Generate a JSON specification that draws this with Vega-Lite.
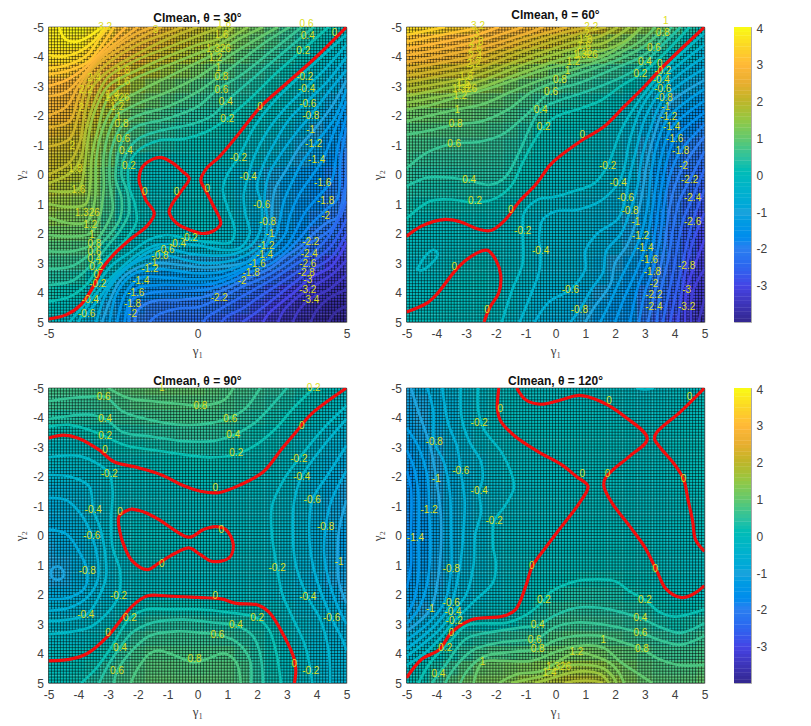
{"$schema":"https://vega.github.io/schema/vega-lite/v6.json","padding":{"left":12.5,"top":8,"right":0,"bottom":0},"background":"white","bounds":"flush","align":"each","columns":4,"spacing":{"row":66,"column":29.5},
"config":{"view":{"stroke":"#b0b0b0"},"axis":{"labelFont":"Liberation Sans","labelFontSize":12,"labelColor":"#404040","tickSize":0,"labelPadding":5,"labelFlush":false,"labelOverlap":false,"domainColor":"#a8a8a8","grid":false,"titleFont":"Liberation Serif","titleFontSize":13,"titleColor":"#404040","titleFontWeight":"normal"},"title":{"font":"Liberation Sans","fontSize":12,"fontWeight":"bold","color":"#111111","offset":-6}},
"datasets":{
"xs":[{"k":1,"x":[-5,-4.5,-4,-3.5,-3,-2.5,-2,-1.5,-1,-0.5,0,0.5,1,1.5,2,2.5,3,3.5,4,4.5,5]}],
"mesh":[{"v":-5},{"v":-4.9},{"v":-4.8},{"v":-4.7},{"v":-4.6},{"v":-4.5},{"v":-4.4},{"v":-4.3},{"v":-4.2},{"v":-4.1},{"v":-4},{"v":-3.9},{"v":-3.8},{"v":-3.7},{"v":-3.6},{"v":-3.5},{"v":-3.4},{"v":-3.3},{"v":-3.2},{"v":-3.1},{"v":-3},{"v":-2.9},{"v":-2.8},{"v":-2.7},{"v":-2.6},{"v":-2.5},{"v":-2.4},{"v":-2.3},{"v":-2.2},{"v":-2.1},{"v":-2},{"v":-1.9},{"v":-1.8},{"v":-1.7},{"v":-1.6},{"v":-1.5},{"v":-1.4},{"v":-1.3},{"v":-1.2},{"v":-1.1},{"v":-1},{"v":-0.9},{"v":-0.8},{"v":-0.7},{"v":-0.6},{"v":-0.5},{"v":-0.4},{"v":-0.3},{"v":-0.2},{"v":-0.1},{"v":0},{"v":0.1},{"v":0.2},{"v":0.3},{"v":0.4},{"v":0.5},{"v":0.6},{"v":0.7},{"v":0.8},{"v":0.9},{"v":1},{"v":1.1},{"v":1.2},{"v":1.3},{"v":1.4},{"v":1.5},{"v":1.6},{"v":1.7},{"v":1.8},{"v":1.9},{"v":2},{"v":2.1},{"v":2.2},{"v":2.3},{"v":2.4},{"v":2.5},{"v":2.6},{"v":2.7},{"v":2.8},{"v":2.9},{"v":3},{"v":3.1},{"v":3.2},{"v":3.3},{"v":3.4},{"v":3.5},{"v":3.6},{"v":3.7},{"v":3.8},{"v":3.9},{"v":4},{"v":4.1},{"v":4.2},{"v":4.3},{"v":4.4},{"v":4.5},{"v":4.6},{"v":4.7},{"v":4.8},{"v":4.9},{"v":5}],
"bar":[{"v":-3.95},{"v":-3.85},{"v":-3.75},{"v":-3.65},{"v":-3.55},{"v":-3.45},{"v":-3.35},{"v":-3.25},{"v":-3.15},{"v":-3.05},{"v":-2.95},{"v":-2.85},{"v":-2.75},{"v":-2.65},{"v":-2.55},{"v":-2.45},{"v":-2.35},{"v":-2.25},{"v":-2.15},{"v":-2.05},{"v":-1.95},{"v":-1.85},{"v":-1.75},{"v":-1.65},{"v":-1.55},{"v":-1.45},{"v":-1.35},{"v":-1.25},{"v":-1.15},{"v":-1.05},{"v":-0.95},{"v":-0.85},{"v":-0.75},{"v":-0.65},{"v":-0.55},{"v":-0.45},{"v":-0.35},{"v":-0.25},{"v":-0.15},{"v":-0.05},{"v":0.05},{"v":0.15},{"v":0.25},{"v":0.35},{"v":0.45},{"v":0.55},{"v":0.65},{"v":0.75},{"v":0.85},{"v":0.95},{"v":1.05},{"v":1.15},{"v":1.25},{"v":1.35},{"v":1.45},{"v":1.55},{"v":1.65},{"v":1.75},{"v":1.85},{"v":1.95},{"v":2.05},{"v":2.15},{"v":2.25},{"v":2.35},{"v":2.45},{"v":2.55},{"v":2.65},{"v":2.75},{"v":2.85},{"v":2.95},{"v":3.05},{"v":3.15},{"v":3.25},{"v":3.35},{"v":3.45},{"v":3.55},{"v":3.65},{"v":3.75},{"v":3.85},{"v":3.95},{"v":4.02}],
"ha":[
{"k":1,"y":-5,"z":[3.8,3.95,4.0,3.8,3.5,3.2,2.9,2.6,2.4,2.2,2,1.8,1.6,1.35,1.1,0.85,0.6,0.45,0.3,0.15,0]},
{"k":1,"y":-4.5,"z":[3.8,3.85,3.8,3.6,3.35,3.05,2.75,2.5,2.25,2.05,1.85,1.65,1.4,1.15,0.95,0.75,0.55,0.35,0.18,0,-0.2]},
{"k":1,"y":-4,"z":[3.6,3.6,3.5,3.35,3.1,2.8,2.5,2.25,2,1.8,1.6,1.35,1.1,0.9,0.7,0.55,0.35,0.18,0,-0.2,-0.45]},
{"k":1,"y":-3.5,"z":[3.3,3.3,3.2,3.05,2.8,2.45,2.1,1.8,1.55,1.35,1.15,0.95,0.8,0.65,0.5,0.35,0.18,0,-0.2,-0.45,-0.8]},
{"k":1,"y":-3,"z":[3,2.95,2.85,2.7,2.45,2,1.6,1.3,1.1,0.95,0.8,0.68,0.56,0.45,0.33,0.2,0.05,-0.12,-0.35,-0.65,-1.1]},
{"k":1,"y":-2.5,"z":[2.8,2.7,2.6,2.4,2.05,1.55,1.2,1,0.85,0.7,0.6,0.5,0.42,0.33,0.22,0.1,-0.05,-0.25,-0.55,-0.9,-1.35]},
{"k":1,"y":-2,"z":[2.6,2.5,2.35,2.1,1.7,1.2,0.95,0.8,0.65,0.5,0.42,0.35,0.28,0.2,0.1,0,-0.18,-0.45,-0.8,-1.15,-1.55]},
{"k":1,"y":-1.5,"z":[2.4,2.3,2.15,1.9,1.45,1,0.78,0.6,0.45,0.35,0.28,0.22,0.15,0.07,0,-0.15,-0.4,-0.7,-1,-1.35,-1.7]},
{"k":1,"y":-1,"z":[2.2,2.1,2,1.7,1.3,0.85,0.6,0.42,0.3,0.2,0.15,0.1,0.03,-0.03,-0.15,-0.3,-0.6,-0.9,-1.2,-1.5,-1.85]},
{"k":1,"y":-0.5,"z":[2.1,2,1.85,1.6,1.1,0.5,0.2,0.05,0,0.03,0.03,0,-0.02,-0.1,-0.25,-0.45,-0.75,-1.05,-1.35,-1.65,-2]},
{"k":1,"y":0,"z":[2,1.9,1.75,1.4,0.85,0.35,0.03,-0.03,-0.05,-0.02,0.01,-0.1,-0.25,-0.45,-0.7,-0.95,-1.2,-1.45,-1.65,-1.85,-2.15]},
{"k":1,"y":0.5,"z":[1.85,1.7,1.55,1.3,0.8,0.28,0.08,-0.02,-0.04,0.02,0.02,-0.06,-0.2,-0.45,-0.7,-1,-1.25,-1.5,-1.7,-1.9,-2.25]},
{"k":1,"y":1,"z":[1.6,1.5,1.35,1.1,0.7,0.3,0.1,0,-0.01,0.02,0.03,0.01,-0.15,-0.4,-0.65,-1,-1.3,-1.55,-1.75,-1.95,-2.35]},
{"k":1,"y":1.5,"z":[1.4,1.3,1.2,1.1,0.6,0.2,0.06,0,-0.03,0.01,0.03,0.02,-0.1,-0.35,-0.65,-1,-1.3,-1.6,-1.85,-2.1,-2.5]},
{"k":1,"y":2,"z":[1.1,1.1,1.05,0.95,0.55,0.15,-0.04,-0.08,-0.1,-0.06,-0.01,-0.02,-0.2,-0.45,-0.8,-1.1,-1.4,-1.7,-2,-2.2,-2.6]},
{"k":1,"y":2.5,"z":[0.85,0.85,0.8,0.65,0.2,-0.02,-0.15,-0.3,-0.55,-0.5,-0.4,-0.35,-0.35,-0.6,-1,-1.35,-1.6,-1.9,-2.25,-2.5,-2.9]},
{"k":1,"y":3,"z":[0.65,0.65,0.6,0.4,0.1,-0.15,-0.4,-0.75,-1,-1,-1,-1,-1.05,-1.3,-1.6,-1.9,-2.2,-2.45,-2.7,-3,-3.2]},
{"k":1,"y":3.5,"z":[0.4,0.4,0.32,0.03,-0.3,-0.8,-1.3,-1.45,-1.45,-1.4,-1.4,-1.45,-1.6,-1.9,-2.15,-2.4,-2.65,-2.85,-3.05,-3.25,-3.4]},
{"k":1,"y":4,"z":[0.25,0.2,0.15,-0.25,-0.75,-1.2,-1.6,-1.75,-1.8,-1.8,-1.8,-1.9,-2.1,-2.25,-2.5,-2.75,-3,-3.2,-3.35,-3.5,-3.7]},
{"k":1,"y":4.5,"z":[0.1,0.03,-0.15,-0.55,-1.05,-1.5,-1.85,-2.05,-2.15,-2.15,-2.15,-2.25,-2.4,-2.55,-2.8,-3.05,-3.3,-3.5,-3.6,-3.75,-3.85]},
{"k":1,"y":5,"z":[-0.05,-0.2,-0.4,-0.8,-1.3,-1.7,-2,-2.2,-2.3,-2.3,-2.35,-2.5,-2.65,-2.85,-3.1,-3.35,-3.55,-3.7,-3.8,-3.9,-3.99]}],
"hb":[
{"k":1,"y":-5,"z":[3.6,3.55,3.5,3.4,3.3,3.15,3,2.9,2.77,2.6,2.5,2.35,2.25,2.1,1.85,1.6,1.35,1.1,0.75,0.35,0]},
{"k":1,"y":-4.5,"z":[3.2,3.15,3.1,3,2.9,2.75,2.6,2.45,2.3,2.2,2.05,1.9,1.75,1.55,1.35,1.15,0.95,0.65,0.35,0.03,-0.3]},
{"k":1,"y":-4,"z":[2.77,2.7,2.65,2.55,2.45,2.35,2.2,2.05,1.9,1.75,1.6,1.4,1.25,1.1,0.95,0.75,0.55,0.3,-0.05,-0.3,-0.6]},
{"k":1,"y":-3.5,"z":[2.35,2.25,2.2,2.1,2,1.9,1.75,1.6,1.4,1.2,0.95,0.85,0.75,0.65,0.55,0.4,0.2,-0.15,-0.4,-0.65,-0.85]},
{"k":1,"y":-3,"z":[1.9,1.85,1.75,1.65,1.55,1.45,1.3,1.1,0.95,0.85,0.75,0.6,0.5,0.4,0.3,0.12,-0.05,-0.4,-0.65,-0.9,-1.15]},
{"k":1,"y":-2.5,"z":[1.45,1.4,1.35,1.25,1.15,1.05,0.95,0.85,0.7,0.55,0.4,0.33,0.27,0.2,0.05,-0.1,-0.35,-0.75,-1,-1.2,-1.4]},
{"k":1,"y":-2,"z":[1.1,1.05,1,0.95,0.95,0.9,0.8,0.7,0.55,0.4,0.22,0.2,0.15,0.08,-0.05,-0.25,-0.6,-1.1,-1.35,-1.5,-1.7]},
{"k":1,"y":-1.5,"z":[0.85,0.85,0.82,0.8,0.78,0.75,0.65,0.55,0.38,0.2,0.1,0.08,0.04,0,-0.18,-0.4,-0.85,-1.35,-1.6,-1.75,-1.9]},
{"k":1,"y":-1,"z":[0.75,0.7,0.65,0.6,0.6,0.6,0.52,0.42,0.28,0.12,0.05,0.02,-0.02,-0.12,-0.25,-0.5,-1,-1.5,-1.75,-1.95,-2.1]},
{"k":1,"y":-0.5,"z":[0.65,0.55,0.5,0.48,0.48,0.5,0.45,0.35,0.2,0.08,0,-0.03,-0.08,-0.2,-0.3,-0.5,-0.95,-1.35,-1.85,-2.1,-2.3]},
{"k":1,"y":0,"z":[0.5,0.42,0.4,0.38,0.38,0.42,0.38,0.28,0.14,0.03,-0.05,-0.08,-0.13,-0.2,-0.38,-0.55,-1,-1.6,-1.95,-2.25,-2.45]},
{"k":1,"y":0.5,"z":[0.4,0.33,0.3,0.27,0.3,0.3,0.26,0.18,0.05,-0.03,-0.15,-0.2,-0.25,-0.35,-0.5,-0.75,-1.1,-1.55,-2.05,-2.4,-2.6]},
{"k":1,"y":1,"z":[0.3,0.2,0.2,0.2,0.2,0.18,0.1,0.03,-0.05,-0.15,-0.25,-0.32,-0.38,-0.45,-0.6,-0.75,-1.15,-1.65,-2.1,-2.5,-2.75]},
{"k":1,"y":1.5,"z":[0.2,0.05,0,0.03,0.07,0.05,0,-0.1,-0.18,-0.3,-0.3,-0.35,-0.42,-0.5,-0.72,-0.95,-1.2,-1.75,-2.15,-2.55,-2.9]},
{"k":1,"y":2,"z":[0.02,-0.03,-0.04,-0.03,-0.02,-0.02,-0.05,-0.12,-0.2,-0.32,-0.32,-0.38,-0.42,-0.55,-0.85,-1.1,-1.3,-1.85,-2.3,-2.65,-2.95]},
{"k":1,"y":2.5,"z":[-0.03,-0.08,-0.13,-0.08,-0.03,-0.01,-0.06,-0.13,-0.22,-0.38,-0.35,-0.4,-0.5,-0.6,-0.75,-1.05,-1.4,-1.8,-2.3,-2.7,-3.05]},
{"k":1,"y":3,"z":[-0.15,-0.2,-0.13,-0.05,0.02,0.05,-0.07,-0.13,-0.2,-0.38,-0.38,-0.42,-0.55,-0.75,-1,-1.25,-1.6,-1.95,-2.4,-2.8,-3.15]},
{"k":1,"y":3.5,"z":[-0.1,-0.12,-0.1,-0.02,0.06,0.08,0,-0.12,-0.25,-0.4,-0.45,-0.5,-0.65,-0.85,-1.15,-1.4,-1.75,-2.1,-2.5,-2.95,-3.25]},
{"k":1,"y":4,"z":[-0.06,-0.06,-0.01,0.04,0.05,0.05,0,-0.14,-0.3,-0.45,-0.55,-0.65,-0.8,-1,-1.3,-1.5,-1.95,-2.3,-2.6,-3,-3.35]},
{"k":1,"y":4.5,"z":[-0.01,0,0.02,0.03,0.02,0.01,-0.03,-0.18,-0.35,-0.52,-0.62,-0.78,-0.95,-1.2,-1.45,-1.55,-2.05,-2.45,-2.75,-3.2,-3.55]},
{"k":1,"y":5,"z":[0.03,0.03,0.03,0.02,0.01,-0.02,-0.06,-0.22,-0.42,-0.6,-0.75,-0.85,-1.05,-1.35,-1.55,-1.6,-2.2,-2.65,-2.95,-3.4,-3.7]}],
"hc":[
{"k":1,"y":-5,"z":[0.7,0.7,0.7,0.72,0.8,0.88,0.95,1,1.02,1,1,0.9,0.78,0.7,0.6,0.5,0.4,0.28,0.15,0.07,0]},
{"k":1,"y":-4.5,"z":[0.62,0.6,0.58,0.58,0.7,0.72,0.8,0.82,0.85,0.85,0.84,0.8,0.7,0.6,0.48,0.38,0.28,0.15,0.05,-0.05,-0.2]},
{"k":1,"y":-4,"z":[0.42,0.38,0.4,0.4,0.42,0.55,0.6,0.65,0.68,0.7,0.7,0.67,0.58,0.45,0.35,0.25,0.15,0.03,-0.05,-0.15,-0.35]},
{"k":1,"y":-3.5,"z":[0.18,0.17,0.16,0.2,0.2,0.3,0.38,0.43,0.47,0.5,0.5,0.48,0.4,0.28,0.2,0.1,0,-0.1,-0.2,-0.35,-0.5]},
{"k":1,"y":-3,"z":[-0.1,-0.1,-0.08,-0.03,0.05,0.15,0.2,0.25,0.3,0.32,0.34,0.3,0.22,0.13,0.08,0.05,-0.02,-0.18,-0.35,-0.5,-0.7]},
{"k":1,"y":-2.5,"z":[-0.18,-0.18,-0.16,-0.12,-0.08,0,0.04,0.08,0.12,0.15,0.18,0.17,0.13,0.06,0.04,-0.02,-0.1,-0.25,-0.45,-0.6,-0.85]},
{"k":1,"y":-2,"z":[-0.4,-0.38,-0.32,-0.25,-0.18,-0.08,-0.02,0,0.03,0.07,0.09,0.1,0.07,0.03,-0.01,-0.07,-0.15,-0.35,-0.55,-0.75,-0.95]},
{"k":1,"y":-1.5,"z":[-0.6,-0.55,-0.45,-0.38,-0.2,-0.12,-0.08,-0.05,-0.03,0,0.01,0.01,-0.02,-0.04,-0.07,-0.14,-0.2,-0.35,-0.6,-0.85,-1.05]},
{"k":1,"y":-1,"z":[-0.75,-0.68,-0.55,-0.42,-0.2,-0.12,-0.07,-0.05,-0.04,-0.03,-0.03,-0.04,-0.05,-0.07,-0.1,-0.17,-0.22,-0.38,-0.68,-0.9,-1.1]},
{"k":1,"y":-0.5,"z":[-0.85,-0.75,-0.62,-0.45,-0.28,-0.1,-0.02,-0.01,0,-0.03,-0.04,-0.05,-0.06,-0.08,-0.12,-0.18,-0.25,-0.42,-0.7,-0.9,-1.15]},
{"k":1,"y":0,"z":[-0.9,-0.8,-0.65,-0.52,-0.3,-0.08,0.02,0.04,0.04,0.03,0.01,0.02,0,-0.05,-0.1,-0.2,-0.28,-0.42,-0.7,-0.9,-1.2]},
{"k":1,"y":0.5,"z":[-0.95,-0.88,-0.72,-0.55,-0.33,-0.1,0.03,0.05,0.04,0.02,0.02,0.03,0.02,-0.05,-0.1,-0.17,-0.3,-0.45,-0.7,-0.9,-1.2]},
{"k":1,"y":1,"z":[-1,-0.95,-0.75,-0.57,-0.33,-0.2,-0.02,-0.01,-0.02,-0.04,-0.05,-0.05,-0.05,-0.07,-0.1,-0.17,-0.32,-0.5,-0.65,-0.9,-1.15]},
{"k":1,"y":1.5,"z":[-1,-0.95,-0.72,-0.55,-0.37,-0.22,-0.1,-0.08,-0.07,-0.08,-0.08,-0.08,-0.08,-0.09,-0.13,-0.2,-0.35,-0.55,-0.75,-0.95,-1.1]},
{"k":1,"y":2,"z":[-0.85,-0.83,-0.65,-0.48,-0.38,-0.22,-0.08,-0.02,0,0,0,0,-0.02,-0.03,-0.06,-0.2,-0.32,-0.4,-0.6,-0.85,-1]},
{"k":1,"y":2.5,"z":[-0.52,-0.52,-0.48,-0.4,-0.25,-0.08,0.05,0.2,0.2,0.2,0.2,0.17,0.15,0.1,0.05,-0.02,-0.15,-0.35,-0.45,-0.6,-0.85]},
{"k":1,"y":3,"z":[-0.32,-0.32,-0.3,-0.22,-0.1,0.08,0.28,0.42,0.43,0.44,0.42,0.37,0.33,0.28,0.2,0.07,-0.1,-0.22,-0.38,-0.55,-0.72]},
{"k":1,"y":3.5,"z":[-0.2,-0.18,-0.16,-0.08,0.02,0.32,0.52,0.62,0.63,0.62,0.6,0.58,0.5,0.42,0.3,0.12,-0.08,-0.2,-0.38,-0.52,-0.65]},
{"k":1,"y":4,"z":[-0.05,-0.03,0.02,0.08,0.22,0.5,0.7,0.8,0.78,0.75,0.72,0.75,0.78,0.6,0.38,0.2,-0.02,-0.2,-0.38,-0.48,-0.6]},
{"k":1,"y":4.5,"z":[0.03,0.04,0.15,0.25,0.43,0.62,0.78,0.88,0.88,0.85,0.82,0.85,0.85,0.72,0.42,0.2,-0.02,-0.2,-0.37,-0.46,-0.55]},
{"k":1,"y":5,"z":[0.08,0.12,0.2,0.38,0.55,0.72,0.85,0.95,0.95,0.92,0.92,0.92,0.88,0.78,0.45,0.22,0,-0.15,-0.35,-0.45,-0.55]}],
"hd":[
{"k":1,"y":-5,"z":[-1.05,-0.88,-0.68,-0.5,-0.33,-0.17,-0.03,0.01,-0.02,-0.03,-0.03,-0.03,-0.03,-0.04,-0.05,-0.1,-0.2,-0.12,-0.08,-0.05,0]},
{"k":1,"y":-4.5,"z":[-1.1,-0.95,-0.75,-0.57,-0.37,-0.2,-0.03,0.02,0.02,0,-0.02,-0.03,-0.03,-0.02,-0.03,-0.07,-0.12,-0.08,-0.04,-0.02,0.03]},
{"k":1,"y":-4,"z":[-1.15,-1,-0.82,-0.6,-0.38,-0.2,-0.01,0.02,0.02,0.02,0.02,0.02,0.02,0.01,0,-0.03,-0.06,-0.05,-0.02,0.01,0.04]},
{"k":1,"y":-3.5,"z":[-1.25,-1.1,-0.9,-0.6,-0.38,-0.18,-0.06,0,0.03,0.03,0.03,0.04,0.04,0.04,0.03,0.02,0,-0.01,0.01,0.05,0.08]},
{"k":1,"y":-3,"z":[-1.4,-1.2,-0.95,-0.65,-0.43,-0.22,-0.1,-0.05,-0.02,0.01,0.03,0.04,0.04,0.03,0.02,0,-0.01,0,0.03,0.07,0.1]},
{"k":1,"y":-2.5,"z":[-1.55,-1.3,-1,-0.72,-0.5,-0.4,-0.15,-0.07,-0.05,-0.03,-0.01,0.01,0.02,0.01,0,-0.02,-0.03,-0.02,0.02,0.06,0.1]},
{"k":1,"y":-2,"z":[-1.65,-1.4,-1.02,-0.78,-0.56,-0.38,-0.2,-0.12,-0.08,-0.06,-0.04,-0.02,0,0.01,-0.01,-0.03,-0.05,-0.03,0,0.04,0.08]},
{"k":1,"y":-1.5,"z":[-1.7,-1.45,-1.05,-0.8,-0.57,-0.42,-0.25,-0.19,-0.13,-0.08,-0.05,-0.03,0,0.01,0,-0.03,-0.05,-0.05,-0.02,0.02,0.06]},
{"k":1,"y":-1,"z":[-1.75,-1.48,-1.15,-0.83,-0.6,-0.42,-0.28,-0.18,-0.12,-0.08,-0.05,-0.02,0,0.02,0.01,-0.02,-0.04,-0.05,-0.03,0.01,0.05]},
{"k":1,"y":-0.5,"z":[-1.78,-1.5,-1.2,-0.85,-0.6,-0.4,-0.21,-0.15,-0.1,-0.06,-0.04,-0.02,0.01,0.02,0.02,0,-0.03,-0.05,-0.03,0,0.04]},
{"k":1,"y":0,"z":[-1.75,-1.48,-1.18,-0.85,-0.58,-0.38,-0.2,-0.12,-0.08,-0.05,-0.02,0,0.02,0.03,0.03,0.02,-0.01,-0.03,-0.04,-0.01,0.03]},
{"k":1,"y":0.5,"z":[-1.7,-1.45,-1.15,-0.82,-0.55,-0.35,-0.18,-0.1,-0.06,-0.02,0,0.02,0.04,0.05,0.05,0.03,0.01,-0.02,-0.04,-0.03,0]},
{"k":1,"y":1,"z":[-1.65,-1.4,-1.12,-0.8,-0.53,-0.35,-0.18,-0.09,-0.02,0.02,0.04,0.06,0.08,0.09,0.08,0.06,0.03,0,-0.03,-0.04,-0.03]},
{"k":1,"y":1.5,"z":[-1.5,-1.3,-1.05,-0.75,-0.5,-0.35,-0.2,-0.1,-0.02,0.03,0.07,0.15,0.2,0.2,0.2,0.13,0.07,0.02,-0.01,-0.03,-0.02]},
{"k":1,"y":2,"z":[-1.35,-1.2,-0.9,-0.68,-0.47,-0.3,-0.18,-0.08,-0.01,0.12,0.25,0.33,0.35,0.35,0.3,0.23,0.18,0.1,0.01,-0.01,0.02]},
{"k":1,"y":2.5,"z":[-1.2,-1,-0.8,-0.55,-0.35,-0.15,-0.06,-0.02,0.12,0.3,0.45,0.5,0.45,0.42,0.4,0.35,0.3,0.2,0.13,0.12,0.2]},
{"k":1,"y":3,"z":[-0.95,-0.75,-0.5,-0.15,0,0.03,0.05,0.1,0.25,0.42,0.58,0.62,0.6,0.58,0.52,0.45,0.42,0.3,0.22,0.28,0.42]},
{"k":1,"y":3.5,"z":[-0.65,-0.5,-0.25,0.03,0.3,0.4,0.45,0.48,0.5,0.6,0.8,0.88,0.85,0.82,0.75,0.65,0.55,0.5,0.45,0.5,0.62]},
{"k":1,"y":4,"z":[-0.4,-0.2,0.05,0.27,0.5,0.68,0.78,0.75,0.85,0.92,1.05,1.1,1.15,1.1,0.95,0.9,0.75,0.65,0.62,0.65,0.72]},
{"k":1,"y":4.5,"z":[-0.1,0.1,0.3,0.6,0.85,1.02,1.08,1.15,1.22,1.3,1.42,1.58,1.55,1.45,1.25,1.1,0.9,0.8,0.78,0.8,0.9]},
{"k":1,"y":5,"z":[0.05,0.2,0.5,0.85,1.1,1.2,1.22,1.3,1.5,1.6,1.75,1.85,1.85,1.75,1.5,1.25,1,0.9,0.88,0.9,1]}],
"ca":[
{"k":0,"l":0,"x":[-5,-4.4,-3.9,-3.5,-3.2,-2.8,-2.2,-1.7,-1.45,-1.73,-1.85,-1.96,-1.85,-1.5,-1.23,-0.85,-0.5,-0.28,-0.5,-0.85,-0.95,-0.7,-0.2,0.17,0.55,0.78,0.5,0.25,0.11,0.3,0.73,1.4,2.12,3,4,5],"y":[4.9,4.75,4.4,3.8,3.2,2.7,2.15,1.75,1.32,0.87,0.55,0.19,-0.25,-0.52,-0.58,-0.4,-0.1,0.13,0.5,1,1.27,1.65,1.9,2,1.9,1.66,1,0.5,0.19,-0.2,-0.6,-1.4,-2.3,-3.1,-4,-5]},
{"k":1,"l":0.2,"x":[-5,-4.3,-3.7,-3.3,-2.8,-2.4,-2.05,-2.1,-2.3,-2.3,-2,-1.3,-0.5,0.3,1,1.8,2.6,3.5,4.4],"y":[4.3,4.15,3.7,3.1,2.6,2.2,1.6,1,0.4,-0.3,-0.8,-1.15,-1.2,-1.45,-1.9,-2.6,-3.4,-4.2,-5]},
{"k":2,"l":0.4,"x":[-5,-4.2,-3.7,-3.4,-3,-2.6,-2.3,-2.35,-2.55,-2.4,-2,-1.2,-0.2,0.5,1,1.8,2.6,3.9],"y":[3.75,3.6,3.2,2.9,2.4,1.9,1.3,0.6,0,-0.7,-1.2,-1.5,-1.7,-2,-2.5,-3.2,-3.9,-5]},
{"k":3,"l":0.6,"x":[-5,-4.2,-3.5,-3,-2.6,-2.55,-2.75,-2.5,-2.1,-1,0,0.7,1.5,2.5,3.5],"y":[3.2,3.1,2.6,2.1,1.5,0.8,0.1,-1.2,-1.6,-1.9,-2.3,-2.9,-3.4,-4.2,-5]},
{"k":4,"l":0.8,"x":[-5,-4.2,-3.5,-3.1,-2.85,-2.95,-2.9,-2.5,-2,-1,0,0.7,1.5,2.3,3.1],"y":[2.6,2.6,2.35,1.8,1.2,0.2,-0.8,-1.7,-2,-2.3,-2.8,-3.3,-3.9,-4.5,-5]},
{"k":5,"l":1,"x":[-5,-4.2,-3.6,-3.3,-3.15,-3.15,-2.95,-2.7,-2,-1,0,0.6,1.5,2.7],"y":[2.05,2.1,2,1.5,0.5,-0.6,-1.5,-2,-2.4,-2.8,-3.3,-3.7,-4.3,-5]},
{"k":6,"l":1.2,"x":[-5,-4.3,-3.7,-3.45,-3.4,-3.2,-2.8,-2,-1,0,0.6,1.4,2.2],"y":[1.45,1.65,1.6,0.9,-0.5,-1.5,-2.3,-2.8,-3.3,-3.8,-4.1,-4.6,-5]},
{"k":7,"l":1.4,"x":[-5,-4.3,-3.75,-3.6,-3.55,-3.35,-3,-2.2,-1,0,0.6,1.7],"y":[1,1.1,1,0.3,-0.6,-1.5,-2.6,-3.2,-3.7,-4.1,-4.35,-5]},
{"k":8,"l":1.6,"x":[-5,-4,-3.8,-3.7,-3.5,-3,-2.1,-1,0,0.7,1.2],"y":[0.55,0.5,-0.2,-1,-2,-3,-3.5,-4,-4.4,-4.6,-5]},
{"k":9,"l":1.8,"x":[-5,-4.2,-3.9,-3.75,-3.4,-3,-2,-1,0,0.8],"y":[0.3,-0.1,-0.6,-1.5,-2.6,-3.3,-3.9,-4.3,-4.7,-5]},
{"k":10,"l":2,"x":[-5,-4.3,-3.95,-3.8,-3.5,-3,-2,-1,0],"y":[0,-0.4,-1.1,-2,-3,-3.5,-4.1,-4.6,-5]},
{"k":11,"l":2.2,"x":[-5,-4.3,-4,-3.7,-3.1,-2,-1,-0.5],"y":[-0.95,-1.2,-2,-3,-3.7,-4.4,-4.8,-5]},
{"k":12,"l":2.4,"x":[-5,-4.3,-4,-3.6,-3,-2,-1.2],"y":[-1.6,-1.8,-2.6,-3.5,-4,-4.6,-5]},
{"k":13,"l":2.6,"x":[-5,-4.4,-4,-3.5,-2.8,-2,-1.5],"y":[-2,-2.3,-3,-3.7,-4.3,-4.8,-5]},
{"k":14,"l":2.8,"x":[-5,-4.4,-3.9,-3.3,-2.6,-2],"y":[-2.65,-2.8,-3.3,-4,-4.55,-5]},
{"k":15,"l":3,"x":[-5,-4.4,-3.8,-3.2,-2.6,-2.4],"y":[-3,-3.2,-3.6,-4.2,-4.8,-5]},
{"k":16,"l":3.2,"x":[-5,-4.4,-3.7,-3.2,-2.8],"y":[-3.4,-3.5,-3.8,-4.4,-5]},
{"k":17,"l":3.4,"x":[-5,-4.4,-3.7,-3.3,-3],"y":[-3.6,-3.7,-4.05,-4.6,-5]},
{"k":18,"l":3.6,"x":[-5,-4.5,-4,-3.5,-3.1],"y":[-4.05,-4,-4.15,-4.5,-5]},
{"k":19,"l":3.8,"x":[-4.65,-4.45,-4.1,-3.7,-3.2],"y":[-5,-4.6,-4.5,-4.65,-5]},
{"k":20,"l":-0.2,"x":[5,4,3.4,2.5,1.9,1.37,1,0.85,1,1.25,1.1,0.5,-0.3,-1,-1.6,-2.2,-2.9,-3.35,-3.8,-4.3],"y":[-4.75,-3.85,-3.3,-2.4,-1.6,-0.57,0,0.5,1.1,1.9,2.3,2.3,2.2,2.05,2.2,2.6,3.1,3.7,4.4,5]},
{"k":21,"l":-0.4,"x":[5,4.3,3.6,2.9,2.3,1.9,1.68,1.55,1.6,1.75,1.4,0.8,0,-0.7,-1.4,-2,-2.6,-3.1,-3.6,-4],"y":[-4.4,-3.6,-2.9,-2.2,-1.4,-0.6,0.13,0.7,1.3,2,2.5,2.55,2.4,2.35,2.4,2.7,3.2,3.7,4.3,5]},
{"k":22,"l":-0.6,"x":[5,4.4,3.7,3.1,2.6,2.2,2,2.15,2.1,1.8,1.2,0.5,-0.2,-0.8,-1.1,-1.6,-2.2,-2.8,-3.3,-3.8],"y":[-4,-3.2,-2.5,-1.9,-1.1,-0.3,0.4,1.04,1.9,2.4,2.7,2.75,2.7,2.55,2.45,2.6,3,3.5,4.2,4.85]},
{"k":23,"l":-0.8,"x":[5,4.4,3.8,3.3,2.8,2.4,2.25,2.35,2.2,1.6,1,0.2,-0.6,-1.25,-1.8,-2.4,-3,-3.4],"y":[-3.55,-2.8,-2,-1.4,-0.7,0,0.8,1.6,2.3,2.75,2.95,3,2.85,2.7,2.85,3.2,3.9,5]},
{"k":24,"l":-1,"x":[5,4.5,3.9,3.4,3,2.6,2.5,2.44,2.3,1.7,1,0.2,-0.7,-1.45,-2,-2.6,-3.2],"y":[-3.2,-2.3,-1.5,-0.9,-0.2,0.5,1.2,2.03,2.4,2.95,3.1,3.15,3.05,3,3.15,3.6,5]},
{"k":25,"l":-1.2,"x":[5,4.6,4,3.5,3.2,2.9,2.75,2.6,2.3,1.6,0.8,0,-0.8,-1.5,-2.2,-2.7,-2.95],"y":[-2.9,-1.9,-1.1,-0.4,0.2,0.9,1.6,2.1,2.4,3,3.3,3.35,3.25,3.2,3.4,4,5]},
{"k":26,"l":-1.4,"x":[5,4.6,4.2,3.8,3.4,3.1,2.95,2.6,2.25,1.5,0.7,-0.2,-1,-1.9,-2.4,-2.7],"y":[-2.5,-1.5,-0.5,0.1,0.7,1.4,2,2.45,2.75,3.2,3.5,3.55,3.5,3.5,4,5]},
{"k":27,"l":-1.6,"x":[5,4.7,4.5,4,3.6,3.3,3,2.5,2,1.3,0.5,-0.5,-1.3,-2.1,-2.45],"y":[-2,-0.9,0.2,0.8,1.3,1.9,2.4,2.8,3,3.4,3.7,3.75,3.75,3.9,5]},
{"k":28,"l":-1.8,"x":[5,4.8,4.7,4.3,3.8,3.4,3,2.5,1.8,1.2,0.3,-0.6,-1.5,-2.2,-2.3],"y":[-1.6,-0.5,0.8,1.2,1.7,2.2,2.6,3,3.3,3.6,3.9,3.95,4,4.25,5]},
{"k":29,"l":-2,"x":[5,4.8,4.4,3.9,3.5,3,2.4,1.5,0.9,0.2,-0.6,-1.5,-2,-2.1],"y":[-0.9,1.4,1.6,2,2.4,2.75,3.2,3.6,3.9,4.15,4.25,4.3,4.6,5]},
{"k":30,"l":-2.2,"x":[5,4.6,4,3.8,3.4,2.8,2.2,1.5,0.73,0,-0.7,-1.4,-1.6],"y":[0.1,1.7,2.2,2.3,2.7,3.15,3.5,3.8,4.2,4.5,4.55,4.8,5]},
{"k":31,"l":-2.4,"x":[5,4.4,3.8,3.2,2.6,1.9,1.2,0.7,0.3,0.2],"y":[0.9,2.1,2.7,3.1,3.5,3.9,4.3,4.6,4.85,5]},
{"k":32,"l":-2.6,"x":[5,4.5,3.8,3.2,2.6,2,1.5,1,0.8],"y":[1.5,2.4,3,3.4,3.8,4.2,4.55,4.8,5]},
{"k":33,"l":-2.8,"x":[5,4.5,3.8,3.2,2.7,2.2,1.8,1.5],"y":[2,2.8,3.25,3.7,4.1,4.5,4.8,5]},
{"k":34,"l":-3,"x":[5,4.5,3.8,3.3,2.8,2.4,2.2],"y":[2.3,3.1,3.5,3.95,4.35,4.7,5]},
{"k":35,"l":-3.2,"x":[5,4.5,3.7,3.3,2.9,2.7],"y":[2.9,3.4,3.9,4.2,4.6,5]},
{"k":36,"l":-3.4,"x":[5,4.4,3.8,3.4,3.2],"y":[3.4,3.9,4.2,4.6,5]},
{"k":37,"l":-3.6,"x":[5,4.4,4,3.8],"y":[3.9,4.2,4.6,5]},
{"k":38,"l":-3.8,"x":[5,4.6,4.4],"y":[4.45,4.7,5]}],
"cb":[
{"k":0,"l":0,"x":[-5,-4.5,-3.7,-3.2,-2.6,-2.17,-1.7,-1.2,-0.67,-0.2,0,0.9,1.6,2.3,3,3.7,5],"y":[2.1,1.75,1.52,1.6,1.85,1.9,1.55,0.9,0.35,-0.3,-0.5,-1.17,-1.6,-2.3,-3,-3.75,-5]},
{"k":1,"l":0,"x":[-5,-4.3,-3.96,-3.4,-3,-2.5,-2.28,-2,-1.84,-1.9,-2.2,-2.4],"y":[4.66,4.35,4.03,3.3,2.9,2.6,2.57,2.9,3.4,4,4.5,5]},
{"k":2,"l":0.2,"x":[-5,-4.2,-3.5,-2.7,-2,-1.5,-1.1,-0.8,-0.4,0,0.7,1.5,2.2,2.85,3.5,4.5],"y":[1.5,0.9,0.85,0.95,0.8,0.4,-0.4,-1,-1.6,-1.95,-2.2,-2.5,-3,-3.4,-3.95,-5]},
{"k":3,"l":0.4,"x":[-5,-4.3,-3.6,-2.9,-2.2,-1.7,-1.2,-0.9,-0.5,0.1,1,2,2.6,3,3.5,4.2],"y":[0.4,0.1,0.1,0.2,0.35,0.1,-0.8,-1.5,-2.2,-2.5,-2.8,-3.2,-3.5,-3.8,-4.3,-5]},
{"k":4,"l":0.6,"x":[-5,-4.3,-3.4,-2.6,-1.8,-1,-0.15,0.8,2,2.8,3.3,3.9],"y":[-0.2,-0.75,-1.05,-1.1,-1.35,-2,-2.8,-3.1,-3.6,-3.95,-4.3,-5]},
{"k":5,"l":0.8,"x":[-5,-4.2,-3.35,-2.5,-1.6,-0.8,0.15,1,2,2.9,3.6],"y":[-1.35,-1.5,-1.7,-1.8,-2.2,-2.8,-3.2,-3.5,-3.85,-4.3,-4.9]},
{"k":6,"l":1,"x":[-5,-4.2,-3.3,-2.4,-1.5,-0.5,0.4,1.2,2,2.9,3.35],"y":[-1.8,-2,-2.2,-2.4,-2.8,-3.2,-3.5,-3.75,-4.05,-4.55,-5]},
{"k":7,"l":1.2,"x":[-5,-4.2,-3.2,-2.3,-1.4,-0.4,0.6,1.4,2.2,2.9],"y":[-2.2,-2.35,-2.65,-2.9,-3.2,-3.55,-3.8,-3.95,-4.35,-5]},
{"k":8,"l":1.4,"x":[-5,-3.8,-2.7,-1,0.8,1.6,2.3,2.9],"y":[-2.43,-2.65,-2.88,-3.5,-4.08,-4.2,-4.5,-5]},
{"k":9,"l":1.6,"x":[-5,-3.8,-2.7,-1,0.8,1.6,2.5],"y":[-2.66,-2.9,-3.11,-3.75,-4.31,-4.45,-5]},
{"k":10,"l":1.8,"x":[-5,-3.8,-2.7,-1,0.8,1.4,2.1],"y":[-2.89,-3.1,-3.34,-3.95,-4.54,-4.65,-5]},
{"k":11,"l":2,"x":[-5,-3.8,-2.7,-1,0.8,1.7],"y":[-3.12,-3.35,-3.57,-4.2,-4.77,-5]},
{"k":12,"l":2.2,"x":[-5,-2.7,-1,0.4,1.2],"y":[-3.35,-3.8,-4.4,-4.85,-5]},
{"k":13,"l":2.4,"x":[-5,-2.7,-1,0.4],"y":[-3.58,-4.03,-4.6,-5]},
{"k":14,"l":2.6,"x":[-5,-2.7,-1.2,-0.4],"y":[-3.81,-4.26,-4.7,-5]},
{"k":15,"l":2.8,"x":[-5,-2.7,-1.1],"y":[-4.04,-4.49,-5]},
{"k":16,"l":3,"x":[-5,-2.7,-1.9],"y":[-4.27,-4.72,-5]},
{"k":17,"l":3.2,"x":[-5,-2.7],"y":[-4.5,-4.95]},
{"k":18,"l":3.4,"x":[-5,-3.7],"y":[-4.73,-5]},
{"k":19,"l":-0.2,"x":[5,3.6,2.8,2.2,1.75,1.3,0.5,0,-0.6,-1.05,-1.1,-1.1,-1.45,-1.8],"y":[-4.8,-3.5,-2.5,-1.5,-0.3,0.3,0.6,0.75,0.85,1.3,1.9,3,3.9,5]},
{"k":20,"l":-0.4,"x":[5,3.55,2.9,2.5,2.3,2.1,1.5,0.7,0,-0.44,-0.55,-0.5,-0.55,-0.8,-1.2],"y":[-4.4,-3.2,-2.3,-1.2,-0.2,0.3,0.9,1.2,1.25,1.55,2.2,2.6,3.3,4,5]},
{"k":21,"l":-0.6,"x":[5,3.6,3,2.7,2.5,2.35,2.1,1.4,1,1,0.5,-0.2,-0.7],"y":[-4,-2.9,-1.9,-0.8,0,0.8,1.5,2,2.6,3.2,3.9,4.3,5]},
{"k":22,"l":-0.8,"x":[5,3.65,3.2,2.9,2.75,2.5,2.2,1.7,1.6,1.2,0.8,0.5],"y":[-3.6,-2.6,-1.6,-0.6,0.4,1.25,2,2.6,3.3,3.9,4.6,5]},
{"k":23,"l":-1,"x":[5,3.7,3.3,3.05,2.9,2.7,2.4,2,1.85,1.3,1],"y":[-3.2,-2.3,-1.3,-0.3,0.7,1.6,2.4,3,3.7,4.5,5]},
{"k":24,"l":-1.2,"x":[5,3.8,3.4,3.2,3.1,2.85,2.5,2.2,1.8,1.5],"y":[-2.9,-1.95,-1,0,1,2.1,2.9,3.5,4.4,5]},
{"k":25,"l":-1.4,"x":[5,3.9,3.55,3.35,3.2,3,2.7,2.3,2],"y":[-2.5,-1.6,-0.6,0.5,1.5,2.5,3.3,4.2,5]},
{"k":26,"l":-1.6,"x":[5,4,3.7,3.5,3.35,3.15,2.8,2.5],"y":[-2.1,-1.2,-0.3,0.8,1.9,2.9,3.7,5]},
{"k":27,"l":-1.8,"x":[5,4.2,3.85,3.65,3.5,3.25,3,2.8],"y":[-1.7,-0.8,0,1,2.2,3.3,4,5]},
{"k":28,"l":-2,"x":[5,4.3,4,3.8,3.65,3.4,3.1],"y":[-1.3,-0.3,0.4,1.3,2.5,3.7,5]},
{"k":29,"l":-2.2,"x":[5,4.5,4.15,3.95,3.8,3.5,3.4],"y":[-0.8,0.2,0.9,1.8,2.8,4.1,5]},
{"k":30,"l":-2.4,"x":[5,4.6,4.3,4.1,3.95,3.7,3.6],"y":[-0.2,0.8,1.5,2.4,3.3,4.5,5]},
{"k":31,"l":-2.6,"x":[5,4.6,4.4,4.2,4,3.85],"y":[0.5,1.6,2.4,3.3,4.2,5]},
{"k":32,"l":-2.8,"x":[5,4.6,4.4,4.25,4.1],"y":[1.3,2.3,3.1,3.9,5]},
{"k":33,"l":-3,"x":[5,4.7,4.4,4.35],"y":[2.2,3,3.9,5]},
{"k":34,"l":-3.2,"x":[5,4.6,4.55],"y":[3.2,4,5]},
{"k":35,"l":-3.4,"x":[5,4.8],"y":[4.2,5]},
{"k":36,"l":-0.2,"x":[-4.6,-4.4,-4.1,-3.95,-4.2,-4.5,-4.65,-4.6],"y":[3.15,2.8,2.55,2.7,3.05,3.25,3.2,3.15]}],
"cc":[
{"k":0,"l":0,"x":[-5,-4.5,-4,-3.3,-2.8,-2,-1.2,-0.5,0.1,0.7,1.4,2.2,2.8,3.3,3.8,5],"y":[-3.3,-3.4,-3.3,-2.9,-2.5,-2.3,-2.05,-1.7,-1.5,-1.45,-1.7,-2.15,-2.9,-3.5,-4.1,-5]},
{"k":1,"l":0,"x":[-2.24,-2.63,-2.6,-2.5,-2.2,-1.68,-1.29,-0.75,-0.28,0.1,0.5,1.06,1.2,0.95,0.6,0.2,-0.28,-0.8,-1.29,-1.8,-2.24],"y":[-0.9,-0.65,-0.1,0.25,0.85,1.16,0.93,0.6,0.42,0.65,0.88,0.76,0.3,-0.2,-0.3,-0.2,0.06,-0.2,-0.54,-0.8,-0.9]},
{"k":2,"l":0,"x":[-5,-4.3,-3.7,-3,-2.6,-2.2,-1.7,-1,0,0.8,1.3,2,2.4,2.9,3.25,3.3,3.25],"y":[4.25,4.2,4,3.4,2.9,2.4,2.05,2.05,2.1,2.15,2.3,2.35,2.6,3.4,4.2,4.6,5]},
{"k":3,"l":0.2,"x":[-5,-4.3,-3.7,-3.1,-2.4,-1.5,-0.5,0.4,1.3,2,2.6,3.2,3.9],"y":[-3.7,-3.75,-3.6,-3.36,-3.05,-2.9,-2.75,-2.65,-2.75,-3.1,-3.6,-4.3,-5]},
{"k":4,"l":0.4,"x":[-5,-4.3,-3.7,-3.1,-2.5,-1.5,-0.5,0.5,1.2,1.9,2.4,3],"y":[-3.95,-4.05,-4.1,-3.95,-3.5,-3.35,-3.2,-3.2,-3.4,-3.8,-4.3,-5]},
{"k":5,"l":0.6,"x":[-5,-4.3,-3.7,-3.1,-2.5,-1.5,-0.5,0.4,1.1,1.6,2.1],"y":[-4.55,-4.65,-4.7,-4.7,-4.2,-3.9,-3.75,-3.8,-4,-4.3,-5]},
{"k":6,"l":0.8,"x":[-3,-2.3,-1.5,-0.5,0.1,0.9,1.2],"y":[-5,-4.65,-4.55,-4.45,-4.4,-4.6,-5]},
{"k":7,"l":-0.2,"x":[-5,-4,-3.3,-2.96,-2.85,-2.9,-2.85,-2.6,-2.65,-3,-3.6,-5],"y":[-2.65,-2.7,-2.4,-2.1,-1.5,-0.5,0.4,1.2,2.05,2.6,3.1,3.35]},
{"k":8,"l":-0.4,"x":[-5,-4.3,-3.64,-3.5,-3.25,-3.1,-3.07,-3.3,-3.75,-5],"y":[-2.05,-2,-1.67,-0.87,-0.2,0.6,1.4,2.06,2.7,2.9]},
{"k":9,"l":-0.6,"x":[-5,-4.4,-3.9,-3.55,-3.35,-3.35,-3.7,-4.3,-5],"y":[-1.27,-1.2,-0.7,0,0.8,1.5,2.1,2.45,2.55]},
{"k":10,"l":-0.8,"x":[-5,-4.4,-4,-3.7,-3.8,-4.3,-5],"y":[-0.2,-0.05,0.5,1.2,1.8,2.1,2.15]},
{"k":11,"l":-1,"x":[-4.47,-4.6,-4.7,-4.85,-4.92,-4.85,-4.7,-4.55,-4.47],"y":[1.28,1.08,1.05,1.1,1.28,1.45,1.5,1.45,1.28]},
{"k":12,"l":-0.2,"x":[5,4.2,3.4,2.9,2.5,2.5,2.67,2.85,3.2,3.6,3.8,3.85],"y":[-4.4,-3.6,-2.6,-1.9,-1,0,1.1,2,2.8,3.7,4.6,5]},
{"k":13,"l":-0.4,"x":[5,4.2,3.5,3.25,3.2,3.3,3.7,4.1,4.4,4.45],"y":[-3.95,-3,-2,-1.2,0,1,2.1,2.8,3.9,5]},
{"k":14,"l":-0.6,"x":[5,4.4,3.85,3.75,3.8,4,4.5,4.85,5],"y":[-3.05,-2.1,-1.2,-0.3,0.6,1.5,2.8,3.5,3.9]},
{"k":15,"l":-0.8,"x":[5,4.5,4.3,4.25,4.4,4.7,5],"y":[-2.2,-1.2,-0.3,0.6,1.5,2.4,3]},
{"k":16,"l":-1,"x":[5,4.75,4.7,4.75,5],"y":[-1.2,-0.2,0.9,1.6,2.3]},
{"k":17,"l":0.2,"x":[-3.9,-3.4,-2.9,-2.27,-1.7,-1,0,1,2,2.4,2.65,2.8],"y":[5,4.5,3.8,2.8,2.5,2.5,2.5,2.6,2.8,3.2,4,5]},
{"k":18,"l":0.4,"x":[-3.3,-3,-2.6,-2.2,-1.5,-0.5,0.5,1.29,1.85,2.1,2.2],"y":[5,4.4,3.8,3.3,2.95,2.85,2.95,3.05,3.4,4,5]},
{"k":19,"l":0.6,"x":[-2.8,-2.7,-2.2,-1.6,-0.7,0.1,0.67,1.3,1.75,1.8],"y":[5,4.6,3.9,3.4,3.25,3.3,3.36,3.6,4.2,5]},
{"k":20,"l":0.8,"x":[-2.24,-2,-1.6,-1.3,-0.8,-0.1,0.4,0.9,1.3,1.45],"y":[5,4.5,4,3.9,4.05,4.3,4.15,4,4.3,5]}],
"cd":[
{"k":0,"l":0,"x":[-1.9,-1.95,-1.85,-1.4,-0.6,0.2,0.7,1.09,0.8,0.2,-0.4,-0.78,-1,-1.34,-1.78,-2.8,-3.5,-3.9,-4.5,-5],"y":[-5,-4.3,-3.9,-3.4,-2.85,-2.4,-2,-1.67,-1.1,-0.3,0.5,1.05,1.72,2.51,2.74,2.85,3.3,3.87,4.2,4.83]},
{"k":1,"l":0,"x":[-1.3,-1,-0.5,0.2,0.8,1.5,2.3,3.08,2.5,1.9,1.65,1.63,1.9,2.5,3,3.4,3.7,4.2,4.6,5],"y":[-5,-4.6,-4.45,-4.6,-4.75,-4.55,-4.05,-3.28,-2.7,-2.2,-1.9,-1.64,-1.1,-0.3,0.4,1.2,1.8,2.1,2,1.7]},
{"k":2,"l":0,"x":[5,4.2,3.4,3.32,3.5,4,4.3,4.45,4.6,4.7,5],"y":[-5,-4.2,-3.5,-3.28,-3,-2.4,-1.9,-1.2,-0.5,0.14,0.54]},
{"k":3,"l":-0.2,"x":[2.7,3,3.3],"y":[-5,-4.95,-5]},
{"k":4,"l":-0.2,"x":[-2.6,-2.6,-2.4,-1.8,-1.45,-1.4,-1.7,-2.06,-2.1,-2,-2.1,-2.7,-3.1,-3.4,-3.8,-4.4,-5],"y":[-5,-4.3,-3.6,-2.8,-2,-1.6,-1,-0.48,0.3,1,1.6,2.2,2.6,2.9,3.4,4,4.4]},
{"k":5,"l":-0.4,"x":[-3.18,-3.15,-2.9,-2.5,-2.45,-2.56,-2.5,-2.7,-2.75,-3,-3.44,-3.9,-5],"y":[-5,-4,-3.2,-2.5,-1.9,-1.5,-0.8,0,1,2,2.6,3.2,4.1]},
{"k":6,"l":-0.6,"x":[-3.8,-3.6,-3.3,-3.18,-3.05,-3.1,-3.2,-3.5,-4,-5],"y":[-5,-3.8,-3,-2.17,-1.2,0,1,2.3,3,3.85]},
{"k":7,"l":-0.8,"x":[-4.3,-4.1,-4.07,-3.75,-3.55,-3.5,-3.5,-3.7,-4.2,-5],"y":[-5,-4.2,-3.17,-2.5,-1.5,0,1.12,2.2,2.9,3.55]},
{"k":8,"l":-1,"x":[-4.85,-4.6,-4.2,-4,-3.85,-3.85,-3.95,-4.2,-5],"y":[-5,-4.2,-3,-1.9,-0.7,0.5,1.5,2.5,3.25]},
{"k":9,"l":-1.2,"x":[-5,-4.6,-4.3,-4.24,-4.2,-4.3,-4.6,-5],"y":[-3.65,-3,-2,-0.88,0.5,1.6,2.5,3]},
{"k":10,"l":-1.4,"x":[-5,-4.75,-4.6,-4.6,-4.6,-4.75,-5],"y":[-2.9,-2.3,-1.4,0.1,1.3,2.2,2.7]},
{"k":11,"l":-1.6,"x":[-5,-4.85,-4.85,-4.85,-5],"y":[-2.2,-1.6,0,1,1.8]},
{"k":12,"l":0.2,"x":[-4.6,-4.2,-3.5,-3,-1.6,-1,-0.39,-0.2,0.5,1,2,2.5,3,3.5,4,5],"y":[5,4.3,3.55,3.05,2.95,2.7,2.2,1.95,1.6,1.5,1.55,1.9,2.18,2.6,2.75,2.5]},
{"k":13,"l":0.4,"x":[-4.15,-3.7,-3,-2,-1,-0.6,0,0.7,1.5,2.2,2.85,3.5,4.2,5],"y":[5,4.4,3.5,3.25,3.1,3.05,2.7,2.45,2.45,2.6,2.8,3.1,3.3,2.97]},
{"k":14,"l":0.6,"x":[-3.7,-3.4,-2.8,-2,-1,-0.7,0,0.7,1.5,2.85,3.5,4.2,5],"y":[5,4.5,3.9,3.65,3.55,3.55,3.1,2.95,3,3.3,3.55,3.7,3.4]},
{"k":15,"l":0.8,"x":[-3.2,-2.9,-2.4,-1.5,-0.6,0,0.7,1.5,2.2,2.9,3.5,4.2,5],"y":[5,4.5,4.1,3.95,3.85,3.55,3.4,3.4,3.6,3.85,4.2,4.4,4.38]},
{"k":16,"l":1,"x":[-2.75,-2.45,-1.8,-0.8,0,0.7,1.6,2.2,2.8,3.25],"y":[5,4.3,4.25,4.25,3.95,3.75,3.8,4.3,4.7,5]},
{"k":17,"l":1.2,"x":[-1.9,-1.3,-0.5,0.2,0.7,1.2,1.8,2.1,2.3],"y":[5,4.7,4.6,4.2,3.95,4.05,4.3,4.6,5]},
{"k":18,"l":1.4,"x":[-1.5,-0.8,-0.4,0.2,1,1.6,1.9,2.05],"y":[5,4.85,4.75,4.45,4.38,4.5,4.75,5]},
{"k":19,"l":1.6,"x":[-0.7,0,0.5,1,1.5,1.8],"y":[5,4.8,4.65,4.6,4.7,5]},
{"k":20,"l":1.8,"x":[0.3,0.7,1.3,1.6],"y":[5,4.93,4.93,5]}],
"la":[{"t":"3.2","x":-3.1,"y":-5},{"t":"3","x":-1.4,"y":-4.9},{"t":"1.8","x":0.9,"y":-5.1},{"t":"1.6","x":0.8,"y":-4.73},{"t":"1.326","x":0.7,"y":-4.24},{"t":"1.2","x":0.6,"y":-3.95},{"t":"1","x":0.7,"y":-3.6},{"t":"0.8","x":0.8,"y":-3.3},{"t":"0.6","x":0.8,"y":-2.85},{"t":"0.4","x":0.95,"y":-2.47},{"t":"0.2","x":1,"y":-1.88},{"t":"0.6","x":3.66,"y":-5.1},{"t":"0.4","x":3.7,"y":-4.7},{"t":"0.2","x":3.55,"y":-4.2},{"t":"0","x":4.6,"y":-4.8},{"t":"-0.2","x":3.6,"y":-3.3},{"t":"-0.4","x":3.66,"y":-2.9},{"t":"-0.6","x":3.7,"y":-2.4},{"t":"-0.8","x":3.8,"y":-2},{"t":"-1","x":3.8,"y":-1.5},{"t":"-1.2","x":3.9,"y":-1.05},{"t":"-1.4","x":4,"y":-0.5},{"t":"-1.6","x":4.2,"y":0.3},{"t":"-1.8","x":4.3,"y":0.9},{"t":"-2","x":4.3,"y":1.4},{"t":"0","x":2.1,"y":-2.3},{"t":"-0.2","x":1.37,"y":-0.57},{"t":"-0.4","x":1.7,"y":0.1},{"t":"-0.6","x":2.15,"y":1.04},{"t":"-0.8","x":2.35,"y":1.6},{"t":"-1","x":2.44,"y":2.03},{"t":"-1.2","x":2.3,"y":2.43},{"t":"-1.4","x":2.25,"y":2.74},{"t":"-1.6","x":2,"y":3.04},{"t":"-1.8","x":1.8,"y":3.33},{"t":"-2","x":1.5,"y":3.62},{"t":"-2.2","x":0.73,"y":4.2},{"t":"-2.2","x":3.8,"y":2.3},{"t":"-2.4","x":3.75,"y":2.7},{"t":"-2.6","x":3.7,"y":3.02},{"t":"-2.8","x":3.65,"y":3.33},{"t":"-3","x":3.7,"y":3.56},{"t":"-3.2","x":3.7,"y":3.9},{"t":"-3.4","x":3.8,"y":4.24},{"t":"2.4","x":-3.47,"y":-3.26},{"t":"2.2","x":-3.75,"y":-2.86},{"t":"2","x":-3.9,"y":-2.27},{"t":"1.8","x":-2.5,"y":-3.5},{"t":"1.6","x":-2.5,"y":-3.15},{"t":"1.4","x":-2.85,"y":-2.7},{"t":"1.326","x":-2.7,"y":-2.6},{"t":"1.2","x":-2.7,"y":-2.3},{"t":"1","x":-2.65,"y":-1.95},{"t":"0.8","x":-2.55,"y":-1.7},{"t":"0.6","x":-2.5,"y":-1.2},{"t":"0.4","x":-2.4,"y":-0.8},{"t":"0.2","x":-2.3,"y":-0.3},{"t":"2","x":-4.2,"y":-0.97},{"t":"1.8","x":-4.1,"y":-0.18},{"t":"1.6","x":-4,"y":0.53},{"t":"1.326","x":-3.7,"y":1.3},{"t":"1.2","x":-3.6,"y":1.72},{"t":"1","x":-3.55,"y":2.05},{"t":"0.8","x":-3.46,"y":2.34},{"t":"0.6","x":-3.46,"y":2.62},{"t":"0.4","x":-3.46,"y":2.88},{"t":"0.2","x":-3.4,"y":3.13},{"t":"0","x":-3.4,"y":3.42},{"t":"-0.2","x":-3.35,"y":3.72},{"t":"-0.4","x":-3.6,"y":4.26},{"t":"-0.6","x":-3.72,"y":4.72},{"t":"0","x":-1.77,"y":0.58},{"t":"0","x":-0.7,"y":0.58},{"t":"0","x":0.33,"y":0.5},{"t":"-0.2","x":-0.28,"y":2.15},{"t":"-0.4","x":-0.67,"y":2.34},{"t":"-0.6","x":-1.06,"y":2.55},{"t":"-0.8","x":-1.26,"y":2.77},{"t":"-1","x":-1.5,"y":3},{"t":"-1.2","x":-1.6,"y":3.22},{"t":"-1.4","x":-1.9,"y":3.6},{"t":"-1.6","x":-2.07,"y":4},{"t":"-1.8","x":-2.18,"y":4.38},{"t":"-2","x":-2.18,"y":4.74}],
"lb":[{"t":"3.2","x":-2.6,"y":-5.05},{"t":"3","x":-2.65,"y":-4.75},{"t":"2.8","x":-2.65,"y":-4.5},{"t":"2.6","x":-2.7,"y":-4.25},{"t":"2.4","x":-2.7,"y":-4},{"t":"2.2","x":-2.75,"y":-3.75},{"t":"2","x":-2.8,"y":-3.55},{"t":"1.8","x":-3,"y":-3.3},{"t":"1.6","x":-3.1,"y":-3.1},{"t":"1.4","x":-3.1,"y":-2.95},{"t":"1.326","x":-3.05,"y":-2.9},{"t":"1.2","x":-3.2,"y":-2.65},{"t":"1","x":-3.3,"y":-2.2},{"t":"0.8","x":-3.35,"y":-1.7},{"t":"0.6","x":-3.4,"y":-1.05},{"t":"0.4","x":-2.9,"y":0.2},{"t":"0.2","x":-2.7,"y":0.9},{"t":"2.2","x":1.2,"y":-5},{"t":"2","x":1.05,"y":-4.75},{"t":"1.8","x":1,"y":-4.55},{"t":"1.6","x":0.95,"y":-4.35},{"t":"1.4","x":0.9,"y":-4.1},{"t":"1.326","x":1,"y":-4.05},{"t":"1.2","x":0.6,"y":-3.8},{"t":"1","x":0.4,"y":-3.5},{"t":"0.8","x":0.15,"y":-3.2},{"t":"0.6","x":-0.15,"y":-2.8},{"t":"0.4","x":-0.5,"y":-2.2},{"t":"0.2","x":-0.4,"y":-1.6},{"t":"0","x":0.9,"y":-1.35},{"t":"1","x":3.7,"y":-5.2},{"t":"0.8","x":3.6,"y":-4.8},{"t":"0.6","x":3.3,"y":-4.3},{"t":"0.4","x":3,"y":-3.8},{"t":"0.2","x":2.85,"y":-3.4},{"t":"0","x":3.5,"y":-3.75},{"t":"-0.2","x":3.6,"y":-3.5},{"t":"-0.4","x":3.55,"y":-3.2},{"t":"-0.6","x":3.6,"y":-2.9},{"t":"-0.8","x":3.65,"y":-2.6},{"t":"-1","x":3.7,"y":-2.3},{"t":"-1.2","x":3.8,"y":-1.95},{"t":"-1.4","x":3.9,"y":-1.6},{"t":"-1.6","x":4,"y":-1.2},{"t":"-1.8","x":4.2,"y":-0.8},{"t":"-2","x":4.3,"y":-0.3},{"t":"-2.2","x":4.5,"y":0.2},{"t":"-2.4","x":4.6,"y":0.8},{"t":"-2.6","x":4.6,"y":1.6},{"t":"-2.8","x":4.4,"y":3.1},{"t":"-3","x":4.4,"y":3.9},{"t":"-3.2","x":4.4,"y":4.5},{"t":"0","x":-1.5,"y":1.2},{"t":"-0.2","x":-1.1,"y":1.9},{"t":"-0.4","x":-0.5,"y":2.6},{"t":"0","x":-3.4,"y":3.15},{"t":"0","x":-2.3,"y":4.6},{"t":"-0.6","x":0.5,"y":3.9},{"t":"-0.8","x":0.8,"y":4.6},{"t":"-0.2","x":1.75,"y":-0.3},{"t":"-0.4","x":2.1,"y":0.3},{"t":"-0.6","x":2.35,"y":0.8},{"t":"-0.8","x":2.5,"y":1.25},{"t":"-1","x":2.7,"y":1.6},{"t":"-1.2","x":2.85,"y":2.1},{"t":"-1.4","x":3,"y":2.5},{"t":"-1.6","x":3.15,"y":2.9},{"t":"-1.8","x":3.25,"y":3.3},{"t":"-2","x":3.3,"y":3.7},{"t":"-2.2","x":3.3,"y":4.1},{"t":"-2.4","x":3.3,"y":4.5}],
"lc":[{"t":"0.6","x":-3.15,"y":-4.7},{"t":"1","x":-1.2,"y":-5},{"t":"0.8","x":0.1,"y":-4.4},{"t":"0.6","x":1.1,"y":-3.95},{"t":"0.4","x":1.2,"y":-3.4},{"t":"0.2","x":1.3,"y":-2.8},{"t":"0.4","x":-3.1,"y":-3.95},{"t":"0.2","x":-3.1,"y":-3.36},{"t":"0","x":-3.1,"y":-2.9},{"t":"0.2","x":3.9,"y":-5},{"t":"0","x":3.5,"y":-3.7},{"t":"-0.2","x":3.4,"y":-2.6},{"t":"-0.4","x":3.5,"y":-2},{"t":"-0.6","x":3.85,"y":-1.2},{"t":"-0.8","x":4.3,"y":-0.3},{"t":"-1","x":4.75,"y":0.9},{"t":"-0.2","x":-2.96,"y":-2.1},{"t":"-0.4","x":-3.5,"y":-0.87},{"t":"-0.6","x":-3.55,"y":0},{"t":"-0.8","x":-3.7,"y":1.2},{"t":"-0.2","x":-2.65,"y":2.05},{"t":"-0.4","x":-3.75,"y":2.7},{"t":"0","x":0.6,"y":-1.6},{"t":"0","x":-2.6,"y":-0.8},{"t":"0","x":0.8,"y":-0.2},{"t":"0","x":-1.2,"y":0.95},{"t":"0","x":0.6,"y":2.05},{"t":"0","x":-3,"y":3.3},{"t":"0","x":3.25,"y":4.35},{"t":"-0.2","x":2.67,"y":1.1},{"t":"-0.4","x":3.7,"y":2.1},{"t":"-0.6","x":4.5,"y":2.8},{"t":"-0.2","x":3.8,"y":4.6},{"t":"0.2","x":-2.27,"y":2.8},{"t":"0.2","x":2,"y":2.8},{"t":"0.4","x":1.29,"y":3.05},{"t":"0.6","x":0.67,"y":3.36},{"t":"0.8","x":-0.1,"y":4.2},{"t":"0.4","x":-2.6,"y":3.8},{"t":"0.6","x":-2.7,"y":4.6}],
"ld":[{"t":"0","x":-1.85,"y":-4.3},{"t":"0","x":1.8,"y":-4.55},{"t":"0","x":4.5,"y":-4.7},{"t":"0","x":0.9,"y":-2.1},{"t":"0","x":1.75,"y":-2.1},{"t":"0","x":4.3,"y":-1.9},{"t":"0","x":-0.8,"y":1.05},{"t":"0","x":3.35,"y":1.15},{"t":"-0.2","x":-2.56,"y":-3.8},{"t":"-0.8","x":-4.07,"y":-3.17},{"t":"-0.6","x":-3.18,"y":-2.17},{"t":"-1","x":-4,"y":-1.9},{"t":"-0.4","x":-2.56,"y":-1.5},{"t":"-1.2","x":-4.24,"y":-0.88},{"t":"-0.2","x":-2.06,"y":-0.48},{"t":"-1.4","x":-4.7,"y":0.1},{"t":"-0.8","x":-3.5,"y":1.12},{"t":"-0.6","x":-3.5,"y":2.3},{"t":"-1","x":-4.2,"y":2.5},{"t":"-0.4","x":-3.44,"y":2.6},{"t":"-0.2","x":-3.4,"y":2.9},{"t":"0","x":-3.5,"y":3.3},{"t":"0.2","x":-3.7,"y":3.8},{"t":"0.4","x":-3.93,"y":4.7},{"t":"1","x":-2.45,"y":4.3},{"t":"0.2","x":-0.39,"y":2.2},{"t":"0.2","x":3,"y":2.18},{"t":"0.4","x":-0.6,"y":3.05},{"t":"0.6","x":-0.7,"y":3.55},{"t":"0.8","x":-0.6,"y":3.85},{"t":"0.4","x":2.85,"y":2.8},{"t":"0.6","x":2.85,"y":3.3},{"t":"0.8","x":2.9,"y":3.85},{"t":"1","x":1.6,"y":3.55},{"t":"1.2","x":0.7,"y":3.95},{"t":"1.326","x":0.1,"y":4.45},{"t":"1.4","x":-0.2,"y":4.66}]
},
"concat":[
{"title":"Clmean, θ = 30°","width":298,"height":295,"layer":[
{"data":{"name":"ha"},"transform":[{"lookup":"k","from":{"data":{"name":"xs"},"key":"k","fields":["x"]}},{"flatten":["x","z"]}],"mark":{"type":"rect","width":15.2,"height":15,"clip":true},"encoding":{"x":{"field":"x","type":"quantitative","scale":{"domain":[-5,5],"nice":false,"zero":false},"axis":{"values":[-5,0,5],"labelExpr":"datum.value","labelPadding":6,"title":"γ₁","titlePadding":5}},"y":{"field":"y","type":"quantitative","scale":{"domain":[-5,5],"reverse":true,"nice":false,"zero":false},"axis":{"values":[-5,-4,-3,-2,-1,0,1,2,3,4,5],"tickCount":11,"labelExpr":"datum.value","title":"γ₂","titlePadding":6}},"color":{"field":"z","type":"quantitative","legend":null,"scale":{"domain":[-3.99,-3,-2,-1,0,0.5,1,1.5,2,2.5,3,3.5,4.03],"range":["#33278F","#4544E6","#2C7FF0","#1FA3DC","#02BABC","#30C29C","#63C86E","#93C845","#BDB62A","#E8AE30","#FFB838","#FBD626","#F9FB15"]}}}},
{"data":{"name":"mesh"},"mark":{"type":"rule","color":"#000000","opacity":0.55,"strokeWidth":0.9},"encoding":{"x":{"field":"v","type":"quantitative"}}},
{"data":{"name":"mesh"},"mark":{"type":"rule","color":"#000000","opacity":0.55,"strokeWidth":0.9},"encoding":{"y":{"field":"v","type":"quantitative"}}},
{"data":{"name":"ca"},"transform":[{"filter":"datum.l!==0"},{"flatten":["x","y"]}],"mark":{"type":"line","strokeWidth":2.6,"interpolate":"catmull-rom","clip":true},"encoding":{"x":{"field":"x","type":"quantitative"},"y":{"field":"y","type":"quantitative"},"color":{"field":"l","type":"quantitative"},"detail":{"field":"k"},"order":{"value":null}}},
{"data":{"name":"ca"},"transform":[{"filter":"datum.l===0"},{"flatten":["x","y"]}],"mark":{"type":"line","strokeWidth":3.2,"interpolate":"catmull-rom","color":"#F20D0D","clip":true},"encoding":{"x":{"field":"x","type":"quantitative"},"y":{"field":"y","type":"quantitative"},"detail":{"field":"k"},"order":{"value":null}}},
{"data":{"name":"la"},"mark":{"type":"text","font":"Liberation Sans","fontSize":10,"color":"#DEDE22"},"encoding":{"x":{"field":"x","type":"quantitative"},"y":{"field":"y","type":"quantitative"},"text":{"field":"t"}}}
]},
{"width":1,"height":295,"view":{"stroke":null},"data":{"values":[]},"mark":{"type":"rule"},"encoding":{}},
{"title":"Clmean, θ = 60°","width":298,"height":295,"layer":[
{"data":{"name":"hb"},"transform":[{"lookup":"k","from":{"data":{"name":"xs"},"key":"k","fields":["x"]}},{"flatten":["x","z"]}],"mark":{"type":"rect","width":15.2,"height":15,"clip":true},"encoding":{"x":{"field":"x","type":"quantitative","scale":{"domain":[-5,5],"nice":false,"zero":false},"axis":{"values":[-5,-4,-3,-2,-1,0,1,2,3,4,5],"tickCount":11,"labelExpr":"datum.value","labelPadding":6,"title":"γ₁","titlePadding":5}},"y":{"field":"y","type":"quantitative","scale":{"domain":[-5,5],"reverse":true,"nice":false,"zero":false},"axis":{"values":[-5,-4,-3,-2,-1,0,1,2,3,4,5],"tickCount":11,"labelExpr":"datum.value","title":"γ₂","titlePadding":6}},"color":{"field":"z","type":"quantitative","legend":null,"scale":{"domain":[-3.99,-3,-2,-1,0,0.5,1,1.5,2,2.5,3,3.5,4.03],"range":["#33278F","#4544E6","#2C7FF0","#1FA3DC","#02BABC","#30C29C","#63C86E","#93C845","#BDB62A","#E8AE30","#FFB838","#FBD626","#F9FB15"]}}}},
{"data":{"name":"mesh"},"mark":{"type":"rule","color":"#000000","opacity":0.55,"strokeWidth":0.9},"encoding":{"x":{"field":"v","type":"quantitative"}}},
{"data":{"name":"mesh"},"mark":{"type":"rule","color":"#000000","opacity":0.55,"strokeWidth":0.9},"encoding":{"y":{"field":"v","type":"quantitative"}}},
{"data":{"name":"cb"},"transform":[{"filter":"datum.l!==0"},{"flatten":["x","y"]}],"mark":{"type":"line","strokeWidth":2.6,"interpolate":"catmull-rom","clip":true},"encoding":{"x":{"field":"x","type":"quantitative"},"y":{"field":"y","type":"quantitative"},"color":{"field":"l","type":"quantitative"},"detail":{"field":"k"},"order":{"value":null}}},
{"data":{"name":"cb"},"transform":[{"filter":"datum.l===0"},{"flatten":["x","y"]}],"mark":{"type":"line","strokeWidth":3.2,"interpolate":"catmull-rom","color":"#F20D0D","clip":true},"encoding":{"x":{"field":"x","type":"quantitative"},"y":{"field":"y","type":"quantitative"},"detail":{"field":"k"},"order":{"value":null}}},
{"data":{"name":"lb"},"mark":{"type":"text","font":"Liberation Sans","fontSize":10,"color":"#DEDE22"},"encoding":{"x":{"field":"x","type":"quantitative"},"y":{"field":"y","type":"quantitative"},"text":{"field":"t"}}}
]},
{"width":17,"height":295,"data":{"name":"bar"},"mark":{"type":"rule","strokeWidth":4,"clip":true},"encoding":{"y":{"field":"v","type":"quantitative","scale":{"domain":[-3.99,4.03],"nice":false,"zero":false},"axis":{"orient":"right","values":[-3,-2,-1,0,1,2,3,4],"tickCount":8,"labelExpr":"datum.value","title":null}},"color":{"field":"v","type":"quantitative","legend":null,"scale":{"domain":[-3.99,-3,-2,-1,0,0.5,1,1.5,2,2.5,3,3.5,4.03],"range":["#33278F","#4544E6","#2C7FF0","#1FA3DC","#02BABC","#30C29C","#63C86E","#93C845","#BDB62A","#E8AE30","#FFB838","#FBD626","#F9FB15"]}}}},
{"title":"Clmean, θ = 90°","width":298,"height":295,"layer":[
{"data":{"name":"hc"},"transform":[{"lookup":"k","from":{"data":{"name":"xs"},"key":"k","fields":["x"]}},{"flatten":["x","z"]}],"mark":{"type":"rect","width":15.2,"height":15,"clip":true},"encoding":{"x":{"field":"x","type":"quantitative","scale":{"domain":[-5,5],"nice":false,"zero":false},"axis":{"values":[-5,-4,-3,-2,-1,0,1,2,3,4,5],"tickCount":11,"labelExpr":"datum.value","labelPadding":6,"title":"γ₁","titlePadding":5}},"y":{"field":"y","type":"quantitative","scale":{"domain":[-5,5],"reverse":true,"nice":false,"zero":false},"axis":{"values":[-5,-4,-3,-2,-1,0,1,2,3,4,5],"tickCount":11,"labelExpr":"datum.value","title":"γ₂","titlePadding":6}},"color":{"field":"z","type":"quantitative","legend":null,"scale":{"domain":[-3.99,-3,-2,-1,0,0.5,1,1.5,2,2.5,3,3.5,4.03],"range":["#33278F","#4544E6","#2C7FF0","#1FA3DC","#02BABC","#30C29C","#63C86E","#93C845","#BDB62A","#E8AE30","#FFB838","#FBD626","#F9FB15"]}}}},
{"data":{"name":"mesh"},"mark":{"type":"rule","color":"#000000","opacity":0.55,"strokeWidth":0.9},"encoding":{"x":{"field":"v","type":"quantitative"}}},
{"data":{"name":"mesh"},"mark":{"type":"rule","color":"#000000","opacity":0.55,"strokeWidth":0.9},"encoding":{"y":{"field":"v","type":"quantitative"}}},
{"data":{"name":"cc"},"transform":[{"filter":"datum.l!==0"},{"flatten":["x","y"]}],"mark":{"type":"line","strokeWidth":2.6,"interpolate":"catmull-rom","clip":true},"encoding":{"x":{"field":"x","type":"quantitative"},"y":{"field":"y","type":"quantitative"},"color":{"field":"l","type":"quantitative"},"detail":{"field":"k"},"order":{"value":null}}},
{"data":{"name":"cc"},"transform":[{"filter":"datum.l===0"},{"flatten":["x","y"]}],"mark":{"type":"line","strokeWidth":3.2,"interpolate":"catmull-rom","color":"#F20D0D","clip":true},"encoding":{"x":{"field":"x","type":"quantitative"},"y":{"field":"y","type":"quantitative"},"detail":{"field":"k"},"order":{"value":null}}},
{"data":{"name":"lc"},"mark":{"type":"text","font":"Liberation Sans","fontSize":10,"color":"#DEDE22"},"encoding":{"x":{"field":"x","type":"quantitative"},"y":{"field":"y","type":"quantitative"},"text":{"field":"t"}}}
]},
{"width":1,"height":295,"view":{"stroke":null},"data":{"values":[]},"mark":{"type":"rule"},"encoding":{}},
{"title":"Clmean, θ = 120°","width":298,"height":295,"layer":[
{"data":{"name":"hd"},"transform":[{"lookup":"k","from":{"data":{"name":"xs"},"key":"k","fields":["x"]}},{"flatten":["x","z"]}],"mark":{"type":"rect","width":15.2,"height":15,"clip":true},"encoding":{"x":{"field":"x","type":"quantitative","scale":{"domain":[-5,5],"nice":false,"zero":false},"axis":{"values":[-5,-4,-3,-2,-1,0,1,2,3,4,5],"tickCount":11,"labelExpr":"datum.value","labelPadding":6,"title":"γ₁","titlePadding":5}},"y":{"field":"y","type":"quantitative","scale":{"domain":[-5,5],"reverse":true,"nice":false,"zero":false},"axis":{"values":[-5,-4,-3,-2,-1,0,1,2,3,4,5],"tickCount":11,"labelExpr":"datum.value","title":"γ₂","titlePadding":6}},"color":{"field":"z","type":"quantitative","legend":null,"scale":{"domain":[-3.99,-3,-2,-1,0,0.5,1,1.5,2,2.5,3,3.5,4.03],"range":["#33278F","#4544E6","#2C7FF0","#1FA3DC","#02BABC","#30C29C","#63C86E","#93C845","#BDB62A","#E8AE30","#FFB838","#FBD626","#F9FB15"]}}}},
{"data":{"name":"mesh"},"mark":{"type":"rule","color":"#000000","opacity":0.55,"strokeWidth":0.9},"encoding":{"x":{"field":"v","type":"quantitative"}}},
{"data":{"name":"mesh"},"mark":{"type":"rule","color":"#000000","opacity":0.55,"strokeWidth":0.9},"encoding":{"y":{"field":"v","type":"quantitative"}}},
{"data":{"name":"cd"},"transform":[{"filter":"datum.l!==0"},{"flatten":["x","y"]}],"mark":{"type":"line","strokeWidth":2.6,"interpolate":"catmull-rom","clip":true},"encoding":{"x":{"field":"x","type":"quantitative"},"y":{"field":"y","type":"quantitative"},"color":{"field":"l","type":"quantitative"},"detail":{"field":"k"},"order":{"value":null}}},
{"data":{"name":"cd"},"transform":[{"filter":"datum.l===0"},{"flatten":["x","y"]}],"mark":{"type":"line","strokeWidth":3.2,"interpolate":"catmull-rom","color":"#F20D0D","clip":true},"encoding":{"x":{"field":"x","type":"quantitative"},"y":{"field":"y","type":"quantitative"},"detail":{"field":"k"},"order":{"value":null}}},
{"data":{"name":"ld"},"mark":{"type":"text","font":"Liberation Sans","fontSize":10,"color":"#DEDE22"},"encoding":{"x":{"field":"x","type":"quantitative"},"y":{"field":"y","type":"quantitative"},"text":{"field":"t"}}}
]},
{"width":17,"height":295,"data":{"name":"bar"},"mark":{"type":"rule","strokeWidth":4,"clip":true},"encoding":{"y":{"field":"v","type":"quantitative","scale":{"domain":[-3.99,4.03],"nice":false,"zero":false},"axis":{"orient":"right","values":[-3,-2,-1,0,1,2,3,4],"tickCount":8,"labelExpr":"datum.value","title":null}},"color":{"field":"v","type":"quantitative","legend":null,"scale":{"domain":[-3.99,-3,-2,-1,0,0.5,1,1.5,2,2.5,3,3.5,4.03],"range":["#33278F","#4544E6","#2C7FF0","#1FA3DC","#02BABC","#30C29C","#63C86E","#93C845","#BDB62A","#E8AE30","#FFB838","#FBD626","#F9FB15"]}}}}
]}
